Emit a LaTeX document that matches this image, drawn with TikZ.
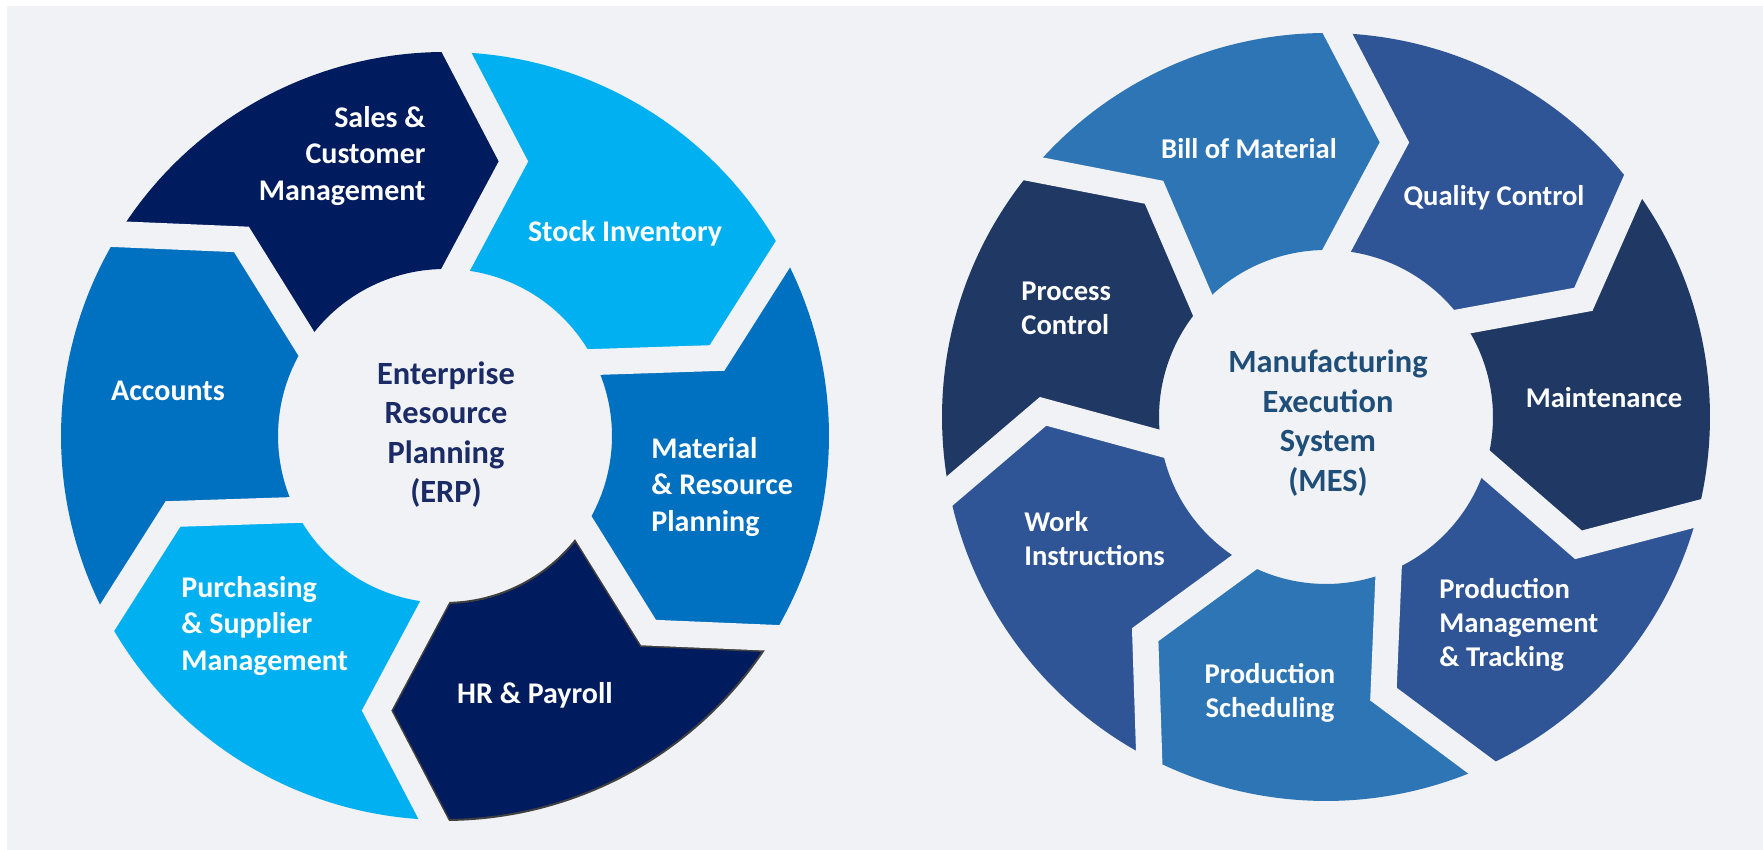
\documentclass[tikz,border=0pt]{standalone}
\usepackage{fontspec}
\setmainfont{Carlito}
\usetikzlibrary{calc}
\definecolor{bg}{HTML}{F0F2F5}
\definecolor{erpnavy}{HTML}{001B5E}
\definecolor{erpsky}{HTML}{00B0F0}
\definecolor{erpmid}{HTML}{0070C0}
\definecolor{mesmid}{HTML}{2E75B6}
\definecolor{mesblue}{HTML}{2F5597}
\definecolor{mesnavy}{HTML}{1F3864}
\definecolor{erptext}{HTML}{1A2B66}
\definecolor{mestext}{HTML}{1F4E79}
\tikzset{
  gapline/.style={draw=bg, line width=13pt, line join=miter, line cap=butt},
  darkgap/.style={draw=black!75, line width=14.6pt, line join=miter, line cap=butt},
  lbl/.style={text=white, font=\bfseries\fontsize{15}{18.25}\selectfont, inner sep=0pt},
  rlbl/.style={text=white, font=\bfseries\fontsize{14.3}{17}\selectfont, inner sep=0pt},
  hub/.style={font=\bfseries\fontsize{16.2}{19.75}\selectfont, align=center, inner sep=0pt},
}
\newcommand\wheelseg[2]{% #1 center, uses \angA \angB \angT \angI etc.
  ($(#1)+(\angA:\Ro)$) arc[start angle=\angA, end angle=\angB, radius=\Ro]
  -- ($(#1)+(\angBT:\Rt)$) -- ($(#1)+(\angBI:\Ri)$)
  arc[start angle=\angBI, end angle=\angAI, radius=\Ri]
  -- ($(#1)+(\angAT:\Rt)$) -- cycle}
\newcommand\setangles[2]{% #1 start angle, #2 step
  \pgfmathsetmacro\angA{#1}%
  \pgfmathsetmacro\angB{#1-#2}%
  \pgfmathsetmacro\angAT{\angA-\Dt}%
  \pgfmathsetmacro\angBT{\angB-\Dt}%
  \pgfmathsetmacro\angAI{\angA-\Di}%
  \pgfmathsetmacro\angBI{\angB-\Di}}
\newcommand\gapat[2]{% #1 center, #2 angle
  \pgfmathsetmacro\gO{#2}%
  \pgfmathsetmacro\gT{#2-\Dt}%
  \pgfmathsetmacro\gI{#2-\Di}%
  \coordinate (go) at ($(#1)+(\gO:\Ro)$);
  \coordinate (gt) at ($(#1)+(\gT:\Rt)$);
  \coordinate (gn) at ($(#1)+(\gI:\Ri)$);
  \draw[gapline] ($(gt)!1.35!(go)$) -- (gt) -- ($(gt)!1.45!(gn)$);}
\begin{document}
\begin{tikzpicture}[x=0.5pt,y=0.5pt]
\useasboundingbox (0,0) rectangle (1763,850);
\fill[white] (0,0) rectangle (1763,850);
\fill[bg] (7,0) rectangle (1763,844);
\def\Ro{384}\def\Ri{167}\def\Rt{283}\def\Dt{12.3}\def\Di{2}
% ---------------- left wheel (ERP)
\coordinate (LC) at (445,414);
\foreach \k/\col in {0/erpsky,1/erpmid,2/erpnavy,3/erpsky,4/erpmid,5/erpnavy}{
  \pgfmathsetmacro\st{88.3-60*\k}
  \setangles{\st}{60}
  \fill[\col] \wheelseg{LC}{};
}
% HR & Payroll outline
\setangles{-31.7}{60}
\draw[black!75, line width=1pt] \wheelseg{LC}{};
\begin{scope}
  \clip \wheelseg{LC}{};
  \foreach \g in {-31.7,-91.7}{
    \pgfmathsetmacro\gO{\g}\pgfmathsetmacro\gT{\g-\Dt}\pgfmathsetmacro\gI{\g-\Di}
    \coordinate (ho) at ($(LC)+(\gO:\Ro)$);
    \coordinate (ht) at ($(LC)+(\gT:\Rt)$);
    \coordinate (hn) at ($(LC)+(\gI:\Ri)$);
    \draw[darkgap] ($(ht)!1.35!(ho)$) -- (ht) -- ($(ht)!1.45!(hn)$);
  }
\end{scope}
\foreach \k in {0,...,5}{
  \pgfmathsetmacro\st{88.3-60*\k}
  \gapat{LC}{\st}
}
% ---------------- right wheel (MES)
\coordinate (RC) at (1326,433);
\foreach \k/\col in {0/mesblue,1/mesnavy,2/mesblue,3/mesmid,4/mesblue,5/mesnavy,6/mesmid}{
  \pgfmathsetmacro\st{88.3-360/7*\k}
  \setangles{\st}{360/7}
  \fill[\col] \wheelseg{RC}{};
}
\foreach \k in {0,...,6}{
  \pgfmathsetmacro\st{88.3-360/7*\k}
  \gapat{RC}{\st}
}
% white frame strips on top of everything
\fill[white] (0,844) rectangle (1763,850);
\fill[white] (0,0) rectangle (7,850);
% ---------------- labels ERP
\node[hub, text=erptext] (erp) at (446,415.5) {Enterprise\\Resource\\Planning\\(ERP)};
\node[lbl, align=right, anchor=east] (sales) at (426,694) {Sales \&\\Customer\\Management};
\node[lbl] (stock) at (625,617) {Stock Inventory};
\node[lbl] (accounts) at (168,459) {Accounts};
\node[lbl, align=left, anchor=west] (material) at (651,363) {Material\\\& Resource\\Planning};
\node[lbl] (hr) at (535,155) {HR \& Payroll};
\node[lbl, align=left, anchor=west] (purch) at (181,224) {Purchasing\\\& Supplier\\Management};
% ---------------- labels MES
\node[hub, text=mestext] (mes) at (1328,427) {Manufacturing\\Execution\\System\\(MES)};
\node[rlbl] (bom) at (1249,701) {Bill of Material};
\node[rlbl] (qc) at (1494,652) {Quality Control};
\node[rlbl, align=left, anchor=west] (pc) at (1021,541.5) {Process\\Control};
\node[rlbl] (maint) at (1604,452) {Maintenance};
\node[rlbl, align=left, anchor=west] (work) at (1024,311.5) {Work\\Instructions};
\node[rlbl, align=left, anchor=west] (pmt) at (1439,225.5) {Production\\Management\\\& Tracking};
\node[rlbl, align=center] (psched) at (1270,157) {Production\\Scheduling};
\end{tikzpicture}
\end{document}
